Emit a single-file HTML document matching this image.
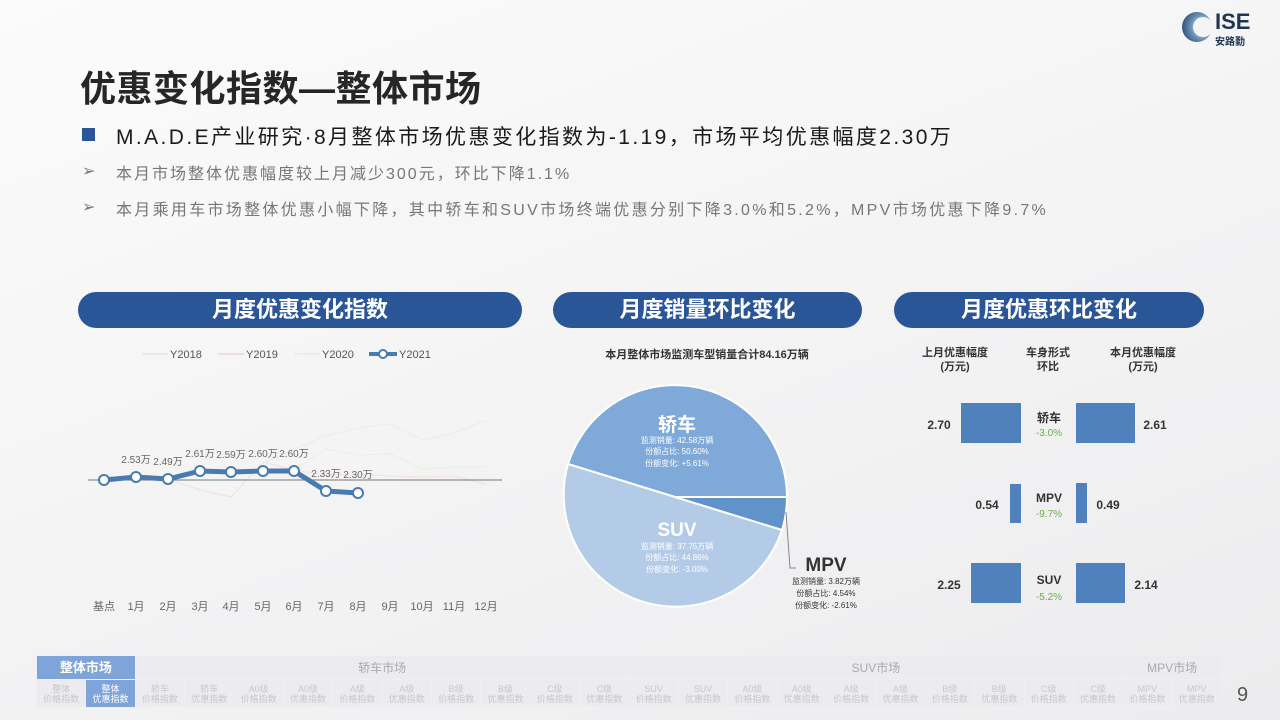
<!DOCTYPE html>
<html><head><meta charset="utf-8"><style>
body{margin:0;width:1280px;height:720px;overflow:hidden;font-family:"Liberation Sans","Noto Sans CJK SC",sans-serif;background:linear-gradient(160deg,#fbfbfb 0%,#f3f3f4 55%,#ececee 100%);position:relative}
.a{position:absolute;white-space:nowrap}
.pill{position:absolute;height:36px;border-radius:18px;background:#2a5597;color:#fff;font-size:22px;text-align:center;line-height:36px;font-weight:bold}
.nav td{border:1px solid #f0f0f3;text-align:center;color:#c8c8cc;font-size:9px;line-height:10px;padding:0}
</style></head><body>
<div class="a" style="left:80px;top:60px;font-size:36px;font-weight:bold;color:#262626;letter-spacing:0.5px">优惠变化指数—整体市场</div>
<div class="a" style="left:82px;top:128px;width:13px;height:13px;background:#2a5597"></div>
<div class="a" style="left:116px;top:121px;font-size:21px;color:#1a1a1a;letter-spacing:2.4px">M.A.D.E产业研究·8月整体市场优惠变化指数为-1.19，市场平均优惠幅度2.30万</div>
<div class="a" style="left:82px;top:161px;font-size:16px;color:#777">➢</div>
<div class="a" style="left:116px;top:160px;font-size:16px;color:#777;letter-spacing:2px">本月市场整体优惠幅度较上月减少300元，环比下降1.1%</div>
<div class="a" style="left:82px;top:197px;font-size:16px;color:#777">➢</div>
<div class="a" style="left:116px;top:196px;font-size:16px;color:#777;letter-spacing:2.3px">本月乘用车市场整体优惠小幅下降，其中轿车和SUV市场终端优惠分别下降3.0%和5.2%，MPV市场优惠下降9.7%</div>
<!-- logo -->
<svg class="a" style="left:1180px;top:10px" width="34" height="34"><defs><radialGradient id="g" cx="0.7" cy="0.5" r="0.8"><stop offset="0" stop-color="#fff"/><stop offset="0.5" stop-color="#6f93b8"/><stop offset="1" stop-color="#1e3d66"/></radialGradient></defs><circle cx="17" cy="17" r="15" fill="url(#g)"/><circle cx="23" cy="17" r="10" fill="#f4f4f5"/></svg>
<div class="a" style="left:1215px;top:9px;font-size:22px;font-weight:bold;color:#1f3555">ISE</div>
<div class="a" style="left:1215px;top:33px;font-size:10px;color:#1f3555;font-weight:bold">安路勤</div>

<div class="pill" style="left:78px;top:292px;width:444px">月度优惠变化指数</div>
<div class="pill" style="left:553px;top:292px;width:309px">月度销量环比变化</div>
<div class="pill" style="left:894px;top:292px;width:310px">月度优惠环比变化</div>

<svg class="a" style="left:0;top:0" width="1280" height="720" font-family="Liberation Sans, Noto Sans CJK SC, sans-serif">
<!-- legend -->
<g font-size="11" fill="#555">
<line x1="142" y1="354" x2="168" y2="354" stroke="#e8d8d8"/><text x="170" y="358">Y2018</text>
<line x1="218" y1="354" x2="244" y2="354" stroke="#f2c0c0"/><text x="246" y="358">Y2019</text>
<line x1="294" y1="354" x2="320" y2="354" stroke="#d8ecd0"/><text x="322" y="358">Y2020</text>
<line x1="369" y1="354" x2="397" y2="354" stroke="#4a7bb0" stroke-width="4"/><circle cx="383" cy="354" r="4" fill="#fff" stroke="#4a7bb0" stroke-width="2"/><text x="399" y="358">Y2021</text>
</g>
<polyline points="263,463 294,449 326,436 358,428 390,424 422,440 454,433 486,420" fill="none" stroke="#f0e4e4" opacity="0.7"/>
<polyline points="104,480 168,479 200,490 231,497 263,462 294,470 326,475 358,474 390,476 422,477 454,476 486,484" fill="none" stroke="#f5d4d4" opacity="0.7"/>
<polyline points="294,470 326,449 358,455 390,454 422,469 454,467 486,467" fill="none" stroke="#e0efd8" opacity="0.7"/>
<line x1="88" y1="480" x2="502" y2="480" stroke="#777"/>
<polyline points="104,480 136,477 168,479 200,471 231,472 263,471 294,471 326,491 358,493" fill="none" stroke="#4a7bb0" stroke-width="5" stroke-linejoin="round"/>
<g fill="#fff" stroke="#4a7bb0" stroke-width="2"><circle cx="104" cy="480" r="5"/><circle cx="136" cy="477" r="5"/><circle cx="168" cy="479" r="5"/><circle cx="200" cy="471" r="5"/><circle cx="231" cy="472" r="5"/><circle cx="263" cy="471" r="5"/><circle cx="294" cy="471" r="5"/><circle cx="326" cy="491" r="5"/><circle cx="358" cy="493" r="5"/></g>
<g font-size="10" fill="#666" text-anchor="middle">
<text x="136" y="463">2.53万</text><text x="168" y="465">2.49万</text><text x="200" y="457">2.61万</text><text x="231" y="458">2.59万</text><text x="263" y="457">2.60万</text><text x="294" y="457">2.60万</text><text x="326" y="477">2.33万</text><text x="358" y="478">2.30万</text>
</g>
<g font-size="11" fill="#666" text-anchor="middle">
<text x="104" y="610">基点</text><text x="136" y="610">1月</text><text x="168" y="610">2月</text><text x="200" y="610">3月</text><text x="231" y="610">4月</text><text x="263" y="610">5月</text><text x="294" y="610">6月</text><text x="326" y="610">7月</text><text x="358" y="610">8月</text><text x="390" y="610">9月</text><text x="422" y="610">10月</text><text x="454" y="610">11月</text><text x="486" y="610">12月</text>
</g>
<!-- pie -->
<text x="707" y="358" font-size="11" font-weight="bold" fill="#333" text-anchor="middle">本月整体市场监测车型销量合计84.16万辆</text>
<g stroke="#fff" stroke-width="2">
<path d="M675,497 L787,497 A112,112 0 0 0 568,464 Z" fill="#7fa9d9"/>
<path d="M675,497 L568,464 A112,112 0 0 0 782,530 Z" fill="#b4cbe7"/>
<path d="M675,497 L782,530 A112,112 0 0 0 787,497 Z" fill="#5f93c9"/>
</g>
<text x="677" y="431" font-size="19" font-weight="bold" fill="#fff" text-anchor="middle">轿车</text>
<g font-size="8" fill="#fff" text-anchor="middle"><text x="677" y="443">监测销量: 42.58万辆</text><text x="677" y="454">份额占比: 50.60%</text><text x="677" y="466">份额变化: +5.61%</text></g>
<text x="677" y="536" font-size="19" font-weight="bold" fill="#fff" text-anchor="middle">SUV</text>
<g font-size="8" fill="#fff" text-anchor="middle"><text x="677" y="549">监测销量: 37.75万辆</text><text x="677" y="560">份额占比: 44.86%</text><text x="677" y="572">份额变化: -3.00%</text></g>
<polyline points="786,512 790,568 796,568" fill="none" stroke="#888"/>
<text x="826" y="571" font-size="19" font-weight="bold" fill="#333" text-anchor="middle">MPV</text>
<g font-size="8" fill="#333" text-anchor="middle"><text x="826" y="584">监测销量: 3.82万辆</text><text x="826" y="596">份额占比: 4.54%</text><text x="826" y="608">份额变化: -2.61%</text></g>
<!-- bars -->
<g font-size="11" font-weight="bold" fill="#333" text-anchor="middle">
<text x="955" y="356">上月优惠幅度</text><text x="955" y="370">(万元)</text>
<text x="1048" y="356">车身形式</text><text x="1048" y="370">环比</text>
<text x="1143" y="356">本月优惠幅度</text><text x="1143" y="370">(万元)</text>
</g>
<g fill="#4f81bd">
<rect x="961" y="403" width="60" height="40"/><rect x="1076" y="403" width="59" height="40"/>
<rect x="1010" y="484" width="11" height="39"/><rect x="1076" y="483" width="11" height="40"/>
<rect x="971" y="563" width="50" height="40"/><rect x="1076" y="563" width="49" height="40"/>
</g>
<g font-size="12" font-weight="bold" fill="#333" text-anchor="middle">
<text x="939" y="429">2.70</text><text x="1155" y="429">2.61</text>
<text x="987" y="509">0.54</text><text x="1108" y="509">0.49</text>
<text x="949" y="589">2.25</text><text x="1146" y="589">2.14</text>
<text x="1049" y="422">轿车</text><text x="1049" y="502">MPV</text><text x="1049" y="584">SUV</text>
</g>
<g font-size="10" fill="#6ab04c" text-anchor="middle"><text x="1049" y="436">-3.0%</text><text x="1049" y="517">-9.7%</text><text x="1049" y="600">-5.2%</text></g>
</svg>

<div class="a" style="left:36px;top:655px;width:1186px;height:52px;background:#ebebf0"></div>
<table class="a nav" style="left:36px;top:655px;border-collapse:collapse;width:1186px;table-layout:fixed" cellspacing="0">
<tr style="height:24px">
<td colspan="2" style="background:#7ea4da;color:#fff;font-size:13px;font-weight:bold">整体市场</td>
<td colspan="10" style="font-size:12px;color:#aaa">轿车市场</td>
<td colspan="10" style="font-size:12px;color:#aaa">SUV市场</td>
<td colspan="2" style="font-size:12px;color:#aaa">MPV市场</td></tr>
<tr style="height:28px">
<td>整体<br>价格指数</td><td style="background:#7ea4da;color:#fff">整体<br>优惠指数</td>
<td>轿车<br>价格指数</td><td>轿车<br>优惠指数</td><td>A0级<br>价格指数</td><td>A0级<br>优惠指数</td><td>A级<br>价格指数</td><td>A级<br>优惠指数</td><td>B级<br>价格指数</td><td>B级<br>优惠指数</td><td>C级<br>价格指数</td><td>C级<br>优惠指数</td>
<td>SUV<br>价格指数</td><td>SUV<br>优惠指数</td><td>A0级<br>价格指数</td><td>A0级<br>优惠指数</td><td>A级<br>价格指数</td><td>A级<br>优惠指数</td><td>B级<br>价格指数</td><td>B级<br>优惠指数</td><td>C级<br>价格指数</td><td>C级<br>优惠指数</td>
<td>MPV<br>价格指数</td><td>MPV<br>优惠指数</td></tr>
</table>
<div class="a" style="left:1237px;top:684px;font-size:20px;color:#555">9</div>
</body></html>
